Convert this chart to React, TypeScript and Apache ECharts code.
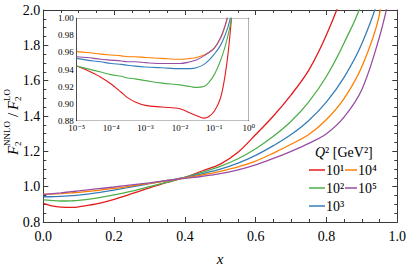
import React, { useEffect, useRef } from 'react';
import * as echarts from 'echarts';

// Q^2 labels and colours
const Q2_LABELS = ['10¹', '10²', '10³', '10⁴', '10⁵'];
const COLORS = ['#e41a1c', '#4daf4a', '#377eb8', '#ff7f00', '#984ea3'];

// Main panel: x grid and ratio values per Q^2
const X_MAIN = [0, 0.02, 0.05, 0.08, 0.1, 0.15, 0.2, 0.25, 0.3, 0.35, 0.4, 0.45, 0.5, 0.55, 0.6, 0.65, 0.7, 0.75, 0.8, 0.85, 0.9, 0.95, 0.98];
const MAIN_Q1 = [0.905, 0.893, 0.884, 0.883, 0.886, 0.902, 0.928, 0.96, 0.993, 1.024, 1.052, 1.09, 1.128, 1.195, 1.295, 1.4, 1.52, 1.66, 1.86, 2.12, 2.5, 3.2, 4.0];
const MAIN_Q2 = [0.925, 0.922, 0.919, 0.92, 0.922, 0.935, 0.953, 0.975, 1.0, 1.026, 1.052, 1.082, 1.115, 1.158, 1.215, 1.285, 1.37, 1.48, 1.625, 1.815, 2.05, 2.6, 3.2];
const MAIN_Q3 = [0.943, 0.943, 0.945, 0.949, 0.952, 0.965, 0.981, 0.999, 1.017, 1.035, 1.052, 1.074, 1.099, 1.133, 1.177, 1.232, 1.295, 1.375, 1.48, 1.62, 1.81, 2.1, 2.6];
const MAIN_Q4 = [0.957, 0.958, 0.961, 0.965, 0.968, 0.978, 0.99, 1.004, 1.019, 1.034, 1.05, 1.067, 1.087, 1.112, 1.145, 1.19, 1.24, 1.295, 1.38, 1.5, 1.68, 1.98, 2.5];
const MAIN_Q5 = [0.955, 0.959, 0.965, 0.972, 0.976, 0.987, 0.998, 1.01, 1.022, 1.035, 1.047, 1.059, 1.074, 1.095, 1.123, 1.16, 1.2, 1.245, 1.3, 1.395, 1.55, 1.85, 2.1];

// Inset panel (log x)
const X_INSET = [1e-5, 2e-5, 5e-5, 1e-4, 2e-4, 3e-4, 5e-4, 1e-3, 3e-3, 1e-2, 2e-2, 3e-2, 5e-2, 7e-2, 0.1, 0.15, 0.2, 0.25, 0.3, 0.35, 0.4];
const INSET_Q1 = [0.944, 0.939, 0.931, 0.923, 0.913, 0.907, 0.902, 0.898, 0.896, 0.894, 0.889, 0.886, 0.883, 0.885, 0.891, 0.906, 0.93, 0.958, 0.99, 1.022, 1.052];
const INSET_Q2 = [0.944, 0.941, 0.937, 0.934, 0.932, 0.93, 0.929, 0.927, 0.924, 0.922, 0.92, 0.919, 0.92, 0.925, 0.934, 0.95, 0.965, 0.98, 0.995, 1.01, 1.03];
const INSET_Q3 = [0.953, 0.951, 0.949, 0.947, 0.946, 0.945, 0.944, 0.943, 0.942, 0.941, 0.941, 0.942, 0.946, 0.951, 0.958, 0.968, 0.979, 0.99, 1.002, 1.015, 1.03];
const INSET_Q4 = [0.961, 0.96, 0.958, 0.957, 0.956, 0.955, 0.955, 0.954, 0.953, 0.952, 0.953, 0.954, 0.957, 0.96, 0.965, 0.976, 0.989, 1.003, 1.018, 1.033, 1.05];
const INSET_Q5 = [0.955, 0.954, 0.952, 0.951, 0.95, 0.949, 0.949, 0.948, 0.947, 0.947, 0.949, 0.951, 0.956, 0.96, 0.965, 0.977, 0.99, 1.004, 1.02, 1.035, 1.047];

const MAIN_SERIES = [MAIN_Q1, MAIN_Q2, MAIN_Q3, MAIN_Q4, MAIN_Q5];
const INSET_SERIES = [INSET_Q1, INSET_Q2, INSET_Q3, INSET_Q4, INSET_Q5];

const INSET_DECADES = [1e-5, 1e-4, 1e-3, 1e-2, 1e-1, 1];

const SERIF = "'Liberation Serif', 'DejaVu Serif', serif";
const SUP: Record<string, string> = { '-': '⁻', '0': '⁰', '1': '¹', '2': '²', '3': '³', '4': '⁴', '5': '⁵', '6': '⁶', '7': '⁷', '8': '⁸', '9': '⁹' };
const toSup = (s: string) => s.split('').map((c) => SUP[c] || c).join('');

export default function App() {
  const ref = useRef<HTMLDivElement>(null);

  useEffect(() => {
    if (!ref.current) return;
    const chart = echarts.init(ref.current, undefined, { renderer: 'svg' });

    const minorTicks: number[] = [];
    for (let i = 0; i < INSET_DECADES.length - 1; i++) {
      for (let m = 2; m <= 9; m++) minorTicks.push(+(m * INSET_DECADES[i]).toPrecision(3));
    }

    const mainAxisColor = '#3a3a3a';
    const mainX = (pos: 'bottom' | 'top', labels: boolean) => ({
      type: 'value', gridIndex: 0, position: pos, min: 0, max: 1, interval: 0.2,
      axisLine: { onZero: false, lineStyle: { color: mainAxisColor, width: 1 } },
      axisTick: { inside: true, length: 5, lineStyle: { color: mainAxisColor } },
      minorTick: { show: true, splitNumber: 4, length: 3, lineStyle: { color: mainAxisColor } },
      splitLine: { show: false },
      axisLabel: { show: labels, formatter: (v: number) => v.toFixed(1), fontFamily: SERIF, fontSize: 14, color: '#000', margin: 7 },
    });
    const mainY = (pos: 'left' | 'right', labels: boolean) => ({
      type: 'value', gridIndex: 0, position: pos, min: 0.8, max: 2.0, interval: 0.2,
      axisLine: { onZero: false, lineStyle: { color: mainAxisColor, width: 1 } },
      axisTick: { inside: true, length: 5, lineStyle: { color: mainAxisColor } },
      minorTick: { show: true, splitNumber: 4, length: 3, lineStyle: { color: mainAxisColor } },
      splitLine: { show: false },
      axisLabel: { show: labels, formatter: (v: number) => v.toFixed(1), fontFamily: SERIF, fontSize: 14, color: '#000', margin: 3 },
    });
    const insetX = (pos: 'bottom' | 'top', labels: boolean, minor: boolean) => ({
      type: 'log', logBase: 10, gridIndex: 1, position: pos, min: 1e-5, max: 1,
      axisLine: { show: !minor, onZero: false, lineStyle: { color: '#000', width: 1 } },
      axisTick: { inside: true, length: minor ? 2 : 4, customValues: minor ? minorTicks : INSET_DECADES, lineStyle: { color: '#000' } },
      splitLine: { show: false },
      axisLabel: {
        show: labels, customValues: INSET_DECADES,
        formatter: (v: number) => '10' + toSup(String(Math.round(Math.log10(v)))),
        fontFamily: SERIF, fontSize: 9, color: '#000', margin: 3,
      },
    });
    const insetY = (pos: 'left' | 'right', labels: boolean) => ({
      type: 'value', gridIndex: 1, position: pos, min: 0.88, max: 1.0, interval: 0.02,
      axisLine: { onZero: false, lineStyle: { color: '#000', width: 1 } },
      axisTick: { inside: true, length: 4, lineStyle: { color: '#000' } },
      minorTick: { show: true, splitNumber: 4, length: 2, lineStyle: { color: '#000' } },
      splitLine: { show: false },
      axisLabel: { show: labels, formatter: (v: number) => v.toFixed(2), fontFamily: SERIF, fontSize: 9, color: '#000', margin: 3 },
    });

    const series: any[] = [];
    MAIN_SERIES.forEach((vals, i) => {
      series.push({
        type: 'line', name: Q2_LABELS[i], xAxisIndex: 0, yAxisIndex: 0,
        data: X_MAIN.map((x, j) => [x, vals[j]]),
        showSymbol: false, symbol: 'none', smooth: 0.35, clip: true,
        lineStyle: { color: COLORS[i], width: 1.3 }, z: 3,
      });
    });
    INSET_SERIES.forEach((vals, i) => {
      series.push({
        type: 'line', name: Q2_LABELS[i] + ' ', xAxisIndex: 2, yAxisIndex: 2,
        data: X_INSET.map((x, j) => [x, vals[j]]),
        showSymbol: false, symbol: 'none', smooth: 0.35, clip: true,
        lineStyle: { color: COLORS[i], width: 1.1 }, z: 6,
      });
    });

    // legend graphics (2 columns, column-major)
    const legendEls: any[] = [];
    Q2_LABELS.forEach((lab, i) => {
      const col = i < 3 ? 0 : 1;
      const row = i < 3 ? i : i - 3;
      const x0 = col === 0 ? 309 : 345;
      const len = col === 0 ? 16 : 12;
      const y0 = 170 + row * 18;
      legendEls.push({ type: 'line', shape: { x1: x0, y1: y0, x2: x0 + len, y2: y0 }, style: { stroke: COLORS[i], lineWidth: 1.5 } });
      legendEls.push({ type: 'text', x: x0 + len + 1, y: y0, style: { text: lab, font: `14px ${SERIF}`, fill: '#000', textAlign: 'left', align: 'left', textVerticalAlign: 'middle', verticalAlign: 'middle' } });
    });
    legendEls.push({
      type: 'text', x: 315, y: 152,
      style: {
        text: '{q|Q}{n|² [GeV²]}', textAlign: 'left', align: 'left', textVerticalAlign: 'middle', verticalAlign: 'middle',
        rich: { q: { fontFamily: SERIF, fontStyle: 'italic', fontSize: 14, fill: '#000', color: '#000' }, n: { fontFamily: SERIF, fontSize: 14, fill: '#000', color: '#000' } },
      },
    });

    const tStyle = (text: string, size: number, italic = false) => ({
      text, font: `${italic ? 'italic ' : ''}${size}px ${SERIF}`, fill: '#000',
      textAlign: 'left', align: 'left', textVerticalAlign: 'middle', verticalAlign: 'middle',
    });
    const yTitle = {
      type: 'group', x: 13, y: 155, rotation: Math.PI / 2,
      children: [
        { type: 'text', x: 0, y: 0, style: tStyle('F', 15, true) },
        { type: 'text', x: 9, y: -6, style: tStyle('NNLO', 9) },
        { type: 'text', x: 9, y: 5, style: tStyle('2', 9) },
        { type: 'text', x: 38, y: 0, style: tStyle('/', 15) },
        { type: 'text', x: 45, y: 0, style: tStyle('F', 15, true) },
        { type: 'text', x: 54, y: -6, style: tStyle('LO', 9) },
        { type: 'text', x: 54, y: 5, style: tStyle('2', 9) },
      ],
    };
    const xTitle = { type: 'text', x: 220, y: 259, style: { ...tStyle('x', 15, true), textAlign: 'center', align: 'center' } };

    chart.setOption({
      animation: false,
      backgroundColor: '#fff',
      grid: [
        { left: 43.3, right: 9.7, top: 10, bottom: 47, outerBoundsMode: 'none', containLabel: false },
        { left: 76.7, right: 158.3, top: 18.3, bottom: 148.3, outerBoundsMode: 'none', containLabel: false, show: true, backgroundColor: '#fff', borderWidth: 0, z: 4 },
      ],
      xAxis: [mainX('bottom', true), mainX('top', false), insetX('bottom', true, false), insetX('top', false, false), insetX('bottom', false, true), insetX('top', false, true)],
      yAxis: [mainY('left', true), mainY('right', false), insetY('left', true), insetY('right', false)],
      series,
      graphic: [yTitle, xTitle, ...legendEls],
    });

    return () => chart.dispose();
  }, []);

  return <div ref={ref} style={{ position: 'fixed', left: 0, top: 0, width: 407, height: 269 }} />;
}
